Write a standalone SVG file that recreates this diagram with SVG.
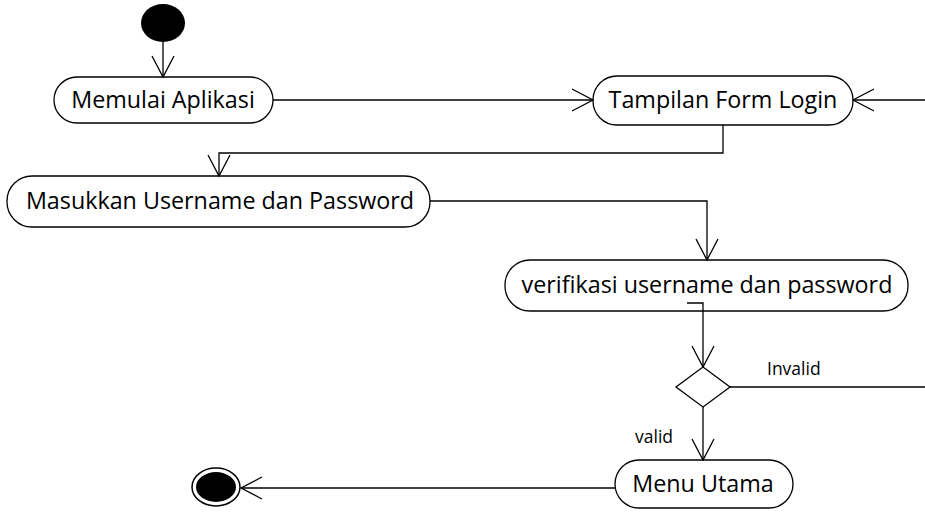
<svg xmlns="http://www.w3.org/2000/svg" width="925" height="512" viewBox="0 0 925 512">
<style>
.node{fill:#fff;stroke:#000;stroke-width:1.3}
.lbl{font-family:"Open Sans","Liberation Sans",sans-serif;font-size:23.3px;fill:#000;text-anchor:middle}
.small{font-family:"Open Sans","Liberation Sans",sans-serif;font-size:17.5px;fill:#000}
.conn{fill:none;stroke:#000;stroke-width:1.3}
</style>
<defs>
<marker id="arr" markerUnits="userSpaceOnUse" orient="auto" overflow="visible" refX="0" refY="0" markerWidth="1" markerHeight="1">
<path d="M-21,-11 L0,0 L-21,11" fill="none" stroke="#000" stroke-width="1.3"/>
</marker>
</defs>
<rect width="925" height="512" fill="#fff"/>
<g id="start"><ellipse cx="163" cy="23" rx="22" ry="19" fill="#000"/></g>
<g id="memulai"><rect class="node" x="54" y="77" width="219" height="46" rx="23" ry="23"/><text class="lbl" x="163" y="108">Memulai Aplikasi</text></g>
<g id="tampilan"><rect class="node" x="593" y="76" width="260" height="49" rx="24" ry="24"/><text class="lbl" x="723" y="108">Tampilan Form Login</text></g>
<g id="masukkan"><rect class="node" x="7" y="176" width="423" height="51" rx="25" ry="25"/><text class="lbl" x="220" y="209">Masukkan Username dan Password</text></g>
<g id="verifikasi"><rect class="node" x="505" y="260" width="403" height="51" rx="25" ry="25"/><text class="lbl" x="707" y="293">verifikasi username dan password</text></g>
<g id="decision"><polygon class="node" points="703,367 730,387 703,407 676,387"/></g>
<g id="menu"><rect class="node" x="615" y="460" width="178" height="48" rx="24" ry="24"/><text class="lbl" x="703" y="492">Menu Utama</text></g>
<g id="end"><ellipse cx="216" cy="487" rx="24" ry="19" fill="#fff" stroke="#000" stroke-width="1.5"/><ellipse cx="216" cy="487" rx="20" ry="15" fill="#000"/></g>
<g id="connectors">
<path class="conn" d="M163,42 V77" marker-end="url(#arr)"/>
<path class="conn" d="M273,100 H593" marker-end="url(#arr)"/>
<path class="conn" d="M925,100 H853" marker-end="url(#arr)"/>
<path class="conn" d="M723,125 V153 H219 V176" marker-end="url(#arr)"/>
<path class="conn" d="M430,201 H707 V260" marker-end="url(#arr)"/>
<path class="conn" d="M687,303 H703 V367" marker-end="url(#arr)"/>
<path class="conn" d="M703,407 V460" marker-end="url(#arr)"/>
<path class="conn" d="M730,387 H925"/>
<path class="conn" d="M615,488 H241" marker-end="url(#arr)"/>
<text class="small" x="767" y="375">Invalid</text>
<text class="small" x="635" y="443">valid</text>
</g>
</svg>
